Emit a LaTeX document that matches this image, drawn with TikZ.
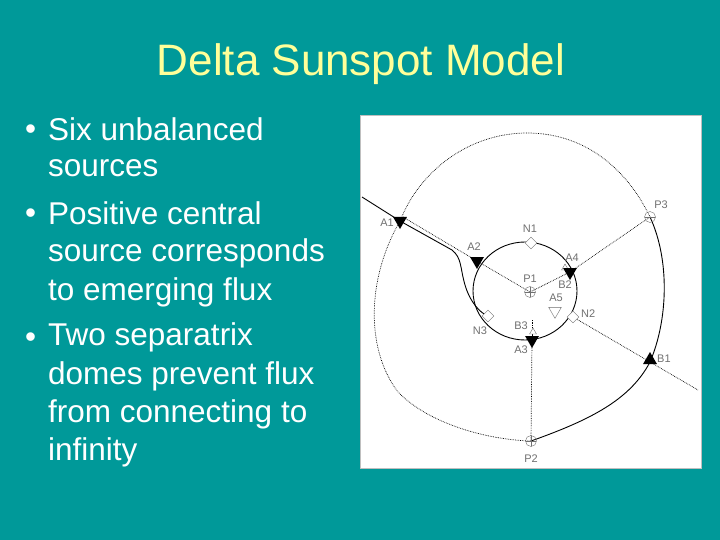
\documentclass[tikz,border=0pt]{standalone}
\usepackage{fontspec}
\setmainfont{Liberation Sans}
\usetikzlibrary{shapes.geometric}
\definecolor{bg}{HTML}{009999}
\definecolor{ttl}{HTML}{FFFF99}
\definecolor{lab}{HTML}{707070}
\begin{document}
\begin{tikzpicture}[x=1pt,y=-1pt,
  bul/.style={anchor=west,text=white,font=\fontsize{31.5}{31.5}\selectfont,inner sep=0},
  lbl/.style={text=lab,font=\fontsize{11}{11}\selectfont,inner sep=1pt},
  dn/.style={isosceles triangle,shape border rotate=-90,isosceles triangle apex angle=60,fill=black,minimum size=12pt,inner sep=0},
  up/.style={isosceles triangle,shape border rotate=90,isosceles triangle apex angle=60,fill=black,minimum size=12pt,inner sep=0},
  odn/.style={isosceles triangle,shape border rotate=-90,isosceles triangle apex angle=60,draw=lab,fill=white,minimum size=11pt,inner sep=0},
  oup/.style={isosceles triangle,shape border rotate=90,isosceles triangle apex angle=60,draw=lab,fill=white,minimum size=6pt,inner sep=0},
  dia/.style={diamond,draw=lab,fill=white,minimum size=12pt,inner sep=0},
  posc/.style={circle,draw=lab,minimum size=11pt,inner sep=0,path picture={\draw[lab](path picture bounding box.north)--(path picture bounding box.south)(path picture bounding box.west)--(path picture bounding box.east);}},
  negc/.style={circle,draw=lab,minimum size=11pt,inner sep=0,path picture={\draw[lab](path picture bounding box.west)--(path picture bounding box.east);}},
  dt/.style={densely dotted,line width=0.7pt},
  sl/.style={line width=0.9pt}]
\fill[bg] (0,0) rectangle (720,540);
\node[text=ttl,font=\fontsize{44}{44}\selectfont] (title) at (361,64) {Delta Sunspot Model};
\foreach \y/\b/\t [count=\i] in {129/1/Six unbalanced,168/0/sources,213/1/Positive central,253/0/source corresponds,292/0/to emerging flux,337/1/Two separatrix,376/0/domes prevent flux,414/0/from connecting to,452/0/infinity}{
  \node[bul] (t\i) at (48,\y) {\t};
  \ifnum\b=1 \node[bul] (b\i) at (25,\y+3) {•};\fi
}
\fill[white,draw=gray!50] (360,115) rectangle (701,468);
\coordinate (L) at (362,197);
\coordinate (R) at (698,390);
\coordinate (B3t) at (532,320);
% curves
\draw[sl] (L) -- (400,221) -- (452,250) .. controls (462,258) and (460,268) .. (465,285) .. controls (470,302) and (480,313) .. (488,316);
\draw[sl] (525,291) ellipse [x radius=52,y radius=49];
\draw[sl] (650,217) .. controls (670,260) and (668,320) .. (650,362) .. controls (630,400) and (590,420) .. (531,441);
\draw[dt] (400,221) .. controls (420,170) and (470,133) .. (527,133) .. controls (590,133) and (630,175) .. (650,217);
\draw[dt] (400,221) .. controls (366,280) and (366,350) .. (398,392) .. controls (430,425) and (490,440) .. (531,441);
\draw[dt] (403,217) -- (477,261) -- (530,292) -- (570,272) -- (650,217);
\draw[dt] (573,317) -- (R);
\draw[dt] (532,340) -- (531,441);
\draw[dt] (B3t) -- (532,340);
% symbols
\node[dn] (A1) at (400,221) {}; \node[lbl,anchor=east] (lA1) at (395,223) {A1};
\node[dn] (A2) at (477,261) {}; \node[lbl] (lA2) at (474,247) {A2};
\node[dia] (N1) at (531,243) {}; \node[lbl] (lN1) at (530,229) {N1};
\node[oup] (B2) at (565,268) {};
\node[dn] (A4) at (570,272) {}; \node[lbl] (lA4) at (572,258) {A4};
\node[posc] (P1) at (530,292) {}; \node[lbl] (lP1) at (530,279) {P1};
\node[lbl] (lB2) at (565,285) {B2};
\node[odn] (A5) at (555,311) {}; \node[lbl] (lA5) at (556,298) {A5};
\node[dia] (N2) at (573,317) {}; \node[lbl,anchor=west] (lN2) at (580,314) {N2};
\node[dia] (N3) at (488,316) {}; \node[lbl] (lN3) at (480,331) {N3};
\node[oup] (B3) at (533,332) {}; \node[lbl] (lB3) at (521,326) {B3};
\node[dn] (A3) at (532,340) {}; \node[lbl] (lA3) at (521,350) {A3};
\node[up] (B1) at (650,360) {}; \node[lbl,anchor=west] (lB1) at (656,359) {B1};
\node[posc] (P2) at (531,441) {}; \node[lbl] (lP2) at (531,459) {P2};
\node[negc] (P3) at (650,217) {}; \node[lbl] (lP3) at (661,205) {P3};
\end{tikzpicture}
\end{document}
